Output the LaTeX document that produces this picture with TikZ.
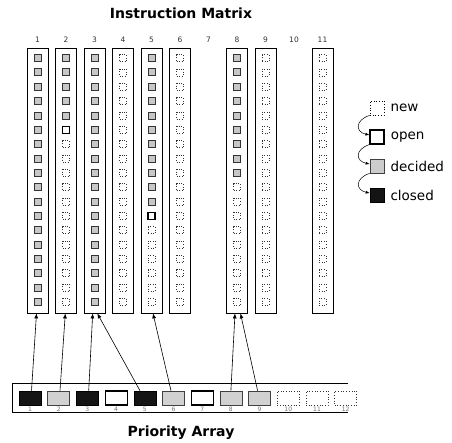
\documentclass[tikz,border=0pt]{standalone}
\usepackage{fontspec}
\setmainfont{DejaVu Sans}
\usetikzlibrary{arrows.meta,positioning}

\begin{document}
\begin{tikzpicture}[
  x=1pt, y=-1pt,
  title/.style={font=\fontsize{14}{16}\selectfont\bfseries},
  colbox/.style={draw, line width=0.8pt, minimum width=21pt, minimum height=265pt, inner sep=0pt},
  collabel/.style={font=\fontsize{7.5}{9}\selectfont, text=black!80},
  cell/.style={minimum size=7pt, inner sep=0pt},
  decidedcell/.style={cell, draw=black!80, fill=black!22, line width=0.7pt},
  opencell/.style={cell, draw, fill=white, line width=1.1pt},
  newcell/.style={cell, draw=black!80, dotted, line width=0.6pt},
  slot/.style={minimum width=22pt, minimum height=14pt, inner sep=0pt},
  closedslot/.style={slot, draw, fill=black!92, line width=0.6pt},
  decidedslot/.style={slot, draw=black!75, fill=black!18, line width=0.6pt},
  openslot/.style={slot, draw, fill=white, line width=1.1pt},
  newslot/.style={slot, draw=black!80, dotted, line width=0.7pt},
  slotlabel/.style={font=\fontsize{6}{7}\selectfont, text=black!55, inner sep=0pt},
  legbox/.style={minimum size=14pt, inner sep=0pt},
  legtext/.style={font=\fontsize{13.5}{15}\selectfont, inner sep=0pt},
  arr/.style={-{Latex[length=5pt,width=4pt]}, line width=0.6pt},
  legarr/.style={-{Latex[length=4pt,width=3pt]}, line width=0.5pt}
]
\useasboundingbox (0,0) rectangle (452,442);

\node[title] (mtitle) at (181,13) {Instruction Matrix};
\node[title] (ptitle) at (181,433) {Priority Array};

\foreach \c in {1,...,11}
  \node[collabel] (lab\c) at ({37.5+(\c-1)*28.5},40) {\c};

\foreach \c/\g/\o in {1/18/0,2/5/6,3/18/0,4/0/0,5/11/12,6/0/0,8/9/0,9/0/0,11/0/0}{
  \node[colbox] (col\c) at ({37.5+(\c-1)*28.5},180.5) {};
  \foreach \r in {1,...,18}{
    \ifnum\r>\g
      \ifnum\r=\o \def\st{opencell}\else\def\st{newcell}\fi
    \else\def\st{decidedcell}\fi
    \node[\st] (m\c-\r) at ({37.5+(\c-1)*28.5},{58+(\r-1)*14.34}) {};
  }
}

\draw[line width=0.8pt] (348,383) -- (12,383) -- (12,412) -- (348,412);
\foreach \k/\s in {1/closedslot,2/decidedslot,3/closedslot,4/openslot,5/closedslot,6/decidedslot,
                   7/openslot,8/decidedslot,9/decidedslot,10/newslot,11/newslot,12/newslot}{
  \node[\s] (p\k) at ({30+(\k-1)*28.7},398) {};
  \node[slotlabel] (pl\k) at ({30+(\k-1)*28.7},409) {\k};
}

\draw[arr] ([xshift=1.5pt]p1.north) -- ([xshift=-1pt]col1.south);
\draw[arr] ([xshift=1.3pt]p2.north) -- ([xshift=-0.7pt]col2.south);
\draw[arr] ([xshift=1.3pt]p3.north) -- ([xshift=-1.8pt]col3.south);
\draw[arr] ([xshift=-4.8pt]p5.north) -- ([xshift=2.8pt]col3.south);
\draw[arr] ([xshift=-2.5pt]p6.north) -- ([xshift=1.5pt]col5.south);
\draw[arr] (p8.north) -- ([xshift=-2pt]col8.south);
\draw[arr] ([xshift=-2pt]p9.north) -- ([xshift=3.5pt]col8.south);

\node[legbox, draw, dotted, line width=0.7pt] (lnew) at (377,108) {};
\node[legbox, draw, fill=white, line width=1.1pt] (lopen) at (377,137) {};
\node[legbox, draw=black!75, fill=black!20, line width=0.7pt] (ldecided) at (377,166) {};
\node[legbox, draw, fill=black!92, line width=0.6pt] (lclosed) at (377,195) {};
\node[legtext, right=6pt of lnew] (tnew) {new};
\node[legtext, right=6pt of lopen] (topen) {open};
\node[legtext, right=6pt of ldecided] (tdecided) {decided};
\node[legtext, right=6pt of lclosed] (tclosed) {closed};

\draw[legarr] (lnew.south west) .. controls +(-15,5) and +(-14,-3) .. (lopen.165);
\draw[legarr] (lopen.south west) .. controls +(-15,5) and +(-14,-3) .. (ldecided.165);
\draw[legarr] (ldecided.south west) .. controls +(-15,5) and +(-14,-3) .. (lclosed.165);
\end{tikzpicture}
\end{document}
